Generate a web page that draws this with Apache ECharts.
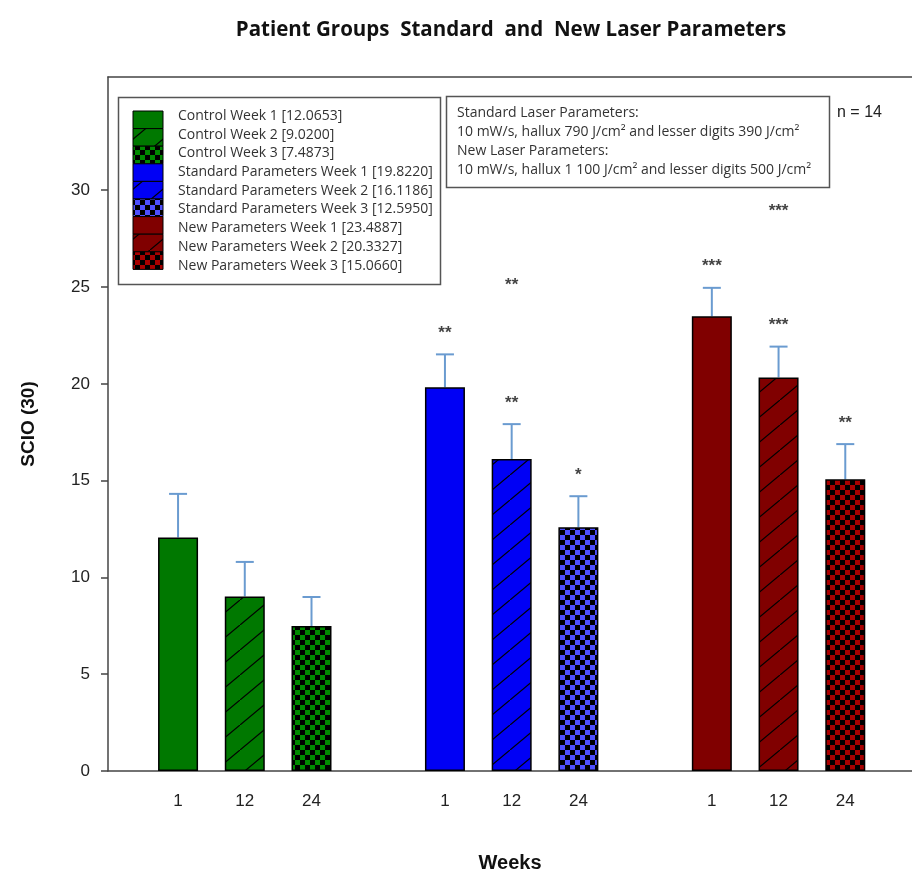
<!DOCTYPE html>
<html>
<head>
<meta charset="utf-8">
<script src="https://cdn.jsdelivr.net/npm/echarts@6/dist/echarts.min.js"></script>
<style>html,body{margin:0;padding:0;background:#fff}#c{width:912px;height:878px}</style>
</head>
<body>
<div id="c"></div>
<script>
// ---- data ----
const titleText = 'Patient Groups  Standard  and  New Laser Parameters';
const groupNames = ['Control', 'Standard Parameters', 'New Parameters'];
const weekTicks = ['1', '12', '24'];
const controlValues = [12.0653, 9.0200, 7.4873];
const standardValues = [19.8220, 16.1186, 12.5950];
const newValues = [23.4887, 20.3327, 15.0660];
const controlErr = [2.25, 1.78, 1.50];
const standardErr = [1.70, 1.80, 1.60];
const newErr = [1.47, 1.59, 1.82];
const controlStars = ['', '', ''];
const standardStars = ['**', '**', '*'];
const newStars = ['***', '***', '**'];
const groupStars = ['', '**', '***'];
const groupStarValues = [null, 25.1, 28.9];
const yTicks = [0, 5, 10, 15, 20, 25, 30];
const infoLines = [
  'Standard Laser Parameters:',
  '10 mW/s, hallux 790 J/cm\u00B2 and lesser digits 390 J/cm\u00B2',
  'New Laser Parameters:',
  '10 mW/s, hallux 1 100 J/cm\u00B2 and lesser digits 500 J/cm\u00B2'
];
const nText = 'n = 14';

// ---- styles ----
const baseColors = ['#007800', '#0000f5', '#800000'];
const checkColors = ['#008a00', '#4f4fff', '#a80000'];
const errColor = '#6a9bd0';

function solid(c) { return c; }
function hatch(c) {
  const cv = document.createElement('canvas');
  cv.width = 30; cv.height = 25;
  const g = cv.getContext('2d');
  g.fillStyle = c; g.fillRect(0, 0, 30, 25);
  g.strokeStyle = '#000'; g.lineWidth = 1.2;
  g.beginPath(); g.moveTo(-6, 30); g.lineTo(36, -5); g.stroke();
  return { image: cv, repeat: 'repeat' };
}
function checker(c) {
  const cv = document.createElement('canvas');
  cv.width = 10; cv.height = 10;
  const g = cv.getContext('2d');
  g.fillStyle = '#000'; g.fillRect(0, 0, 10, 10);
  g.fillStyle = c; g.fillRect(5, 0, 5, 5); g.fillRect(0, 5, 5, 5);
  return { image: cv, repeat: 'repeat' };
}
function fillFor(g, w) {
  if (w === 0) return solid(baseColors[g]);
  if (w === 1) return hatch(baseColors[g]);
  return checker(checkColors[g]);
}

const allValues = [controlValues, standardValues, newValues];
const allErr = [controlErr, standardErr, newErr];
const allStars = [controlStars, standardStars, newStars];

const barData = [], errData = [], starData = [], legendItems = [], labelPos = [];
allValues.forEach((vals, g) => {
  vals.forEach((v, w) => {
    const x = g * 4 + w;
    labelPos.push(x);
    barData.push({ value: [x, v], itemStyle: { color: fillFor(g, w) } });
    errData.push([x, v, allErr[g][w]]);
    if (allStars[g][w]) starData.push({ value: [x, v + allErr[g][w] + 1.1], label: { formatter: allStars[g][w] } });
    legendItems.push({ name: groupNames[g] + ' Week ' + (w + 1) + ' [' + v.toFixed(4) + ']', fill: fillFor(g, w) });
  });
  if (groupStars[g]) starData.push({ value: [g * 4 + 1, groupStarValues[g]], label: { formatter: groupStars[g] } });
});
const labelMap = {};
labelPos.forEach((p, i) => { labelMap[p] = weekTicks[i % 3]; });

// ---- graphics (legend & notes) ----
const graphics = [];
graphics.push({ type: 'text', x: 511, y: 30, style: { text: titleText, font: 'bold 20.5px "Open Sans"', fill: '#111', textAlign: 'center', textVerticalAlign: 'middle' } });
graphics.push({ type: 'rect', shape: { x: 118.5, y: 97.5, width: 322, height: 187 }, style: { fill: '#fff', stroke: '#555', lineWidth: 1.5 }, z: 10 });
legendItems.forEach((it, i) => {
  graphics.push({ type: 'rect', shape: { x: 133, y: 111 + i * 17.6, width: 30, height: 17.6 }, style: { fill: it.fill, stroke: '#000', lineWidth: 1 }, z: 11 });
  graphics.push({ type: 'text', x: 178, y: 116 + i * 18.7, style: { text: it.name, font: '14px "Open Sans"', fill: '#333', textVerticalAlign: 'middle' }, z: 11 });
});
graphics.push({ type: 'rect', shape: { x: 446.5, y: 96.5, width: 383, height: 91 }, style: { fill: '#fff', stroke: '#555', lineWidth: 1.5 }, z: 10 });
infoLines.forEach((t, i) => {
  graphics.push({ type: 'text', x: 457, y: 113 + i * 19, style: { text: t, font: '14px "Open Sans"', fill: '#333', textVerticalAlign: 'middle' }, z: 11 });
});
graphics.push({ type: 'text', x: 837, y: 113, style: { text: nText, font: '16px "Liberation Sans"', fill: '#222', textVerticalAlign: 'middle' }, z: 11 });

const chart = echarts.init(document.getElementById('c'), null, { renderer: 'canvas' });
chart.setOption({
  animation: false,
  backgroundColor: '#fff',
  grid: { left: 108, right: 0, top: 77, bottom: 107 },
  xAxis: [{
    type: 'value', min: -1.05, max: 11, position: 'bottom',
    axisLine: { show: true, onZero: false, lineStyle: { color: '#444', width: 1.5 } },
    axisTick: { show: false },
    splitLine: { show: false },
    axisLabel: { customValues: labelPos, formatter: v => labelMap[v] || '', fontSize: 17, color: '#222', margin: 22, fontFamily: 'Liberation Sans' },
    name: 'Weeks', nameLocation: 'middle', nameGap: 82,
    nameTextStyle: { fontSize: 20, fontWeight: 'bold', color: '#111', fontFamily: 'Liberation Sans' }
  }, {
    type: 'value', min: -1.05, max: 11, position: 'top',
    axisLine: { show: true, onZero: false, lineStyle: { color: '#444', width: 1.5 } },
    axisTick: { show: false }, axisLabel: { show: false }, splitLine: { show: false }
  }],
  yAxis: {
    type: 'value', min: 0, max: 35.85, interval: 5,
    axisLine: { show: true, onZero: false, lineStyle: { color: '#444', width: 1.5 } },
    axisTick: { show: true, length: 7, customValues: yTicks, lineStyle: { color: '#444', width: 1.5 } },
    splitLine: { show: false },
    axisLabel: { customValues: yTicks, fontSize: 17, color: '#222', margin: 18, fontFamily: 'Liberation Sans' },
    name: 'SCIO (30)', nameLocation: 'middle', nameGap: 70,
    nameTextStyle: { fontSize: 19, fontWeight: 'bold', color: '#111', fontFamily: 'Liberation Sans' }
  },
  series: [{
    type: 'bar', data: barData, barWidth: 40,
    itemStyle: { borderColor: '#000', borderWidth: 1.5 }
  }, {
    type: 'custom', data: errData, z: 1,
    renderItem: (params, api) => {
      const x = api.value(0), v = api.value(1), e = api.value(2);
      const p0 = api.coord([x, v]);
      const p1 = api.coord([x, v + e]);
      return { type: 'group', children: [
        { type: 'line', shape: { x1: p0[0], y1: p0[1], x2: p1[0], y2: p1[1] }, style: { stroke: errColor, lineWidth: 2 } },
        { type: 'line', shape: { x1: p1[0] - 9, y1: p1[1], x2: p1[0] + 9, y2: p1[1] }, style: { stroke: errColor, lineWidth: 2 } }
      ] };
    }
  }, {
    type: 'scatter', data: starData, symbolSize: 0,
    label: { show: true, position: 'inside', fontSize: 17, color: '#111', fontWeight: 'bold' }
  }],
  graphic: graphics
});
</script>
</body>
</html>
